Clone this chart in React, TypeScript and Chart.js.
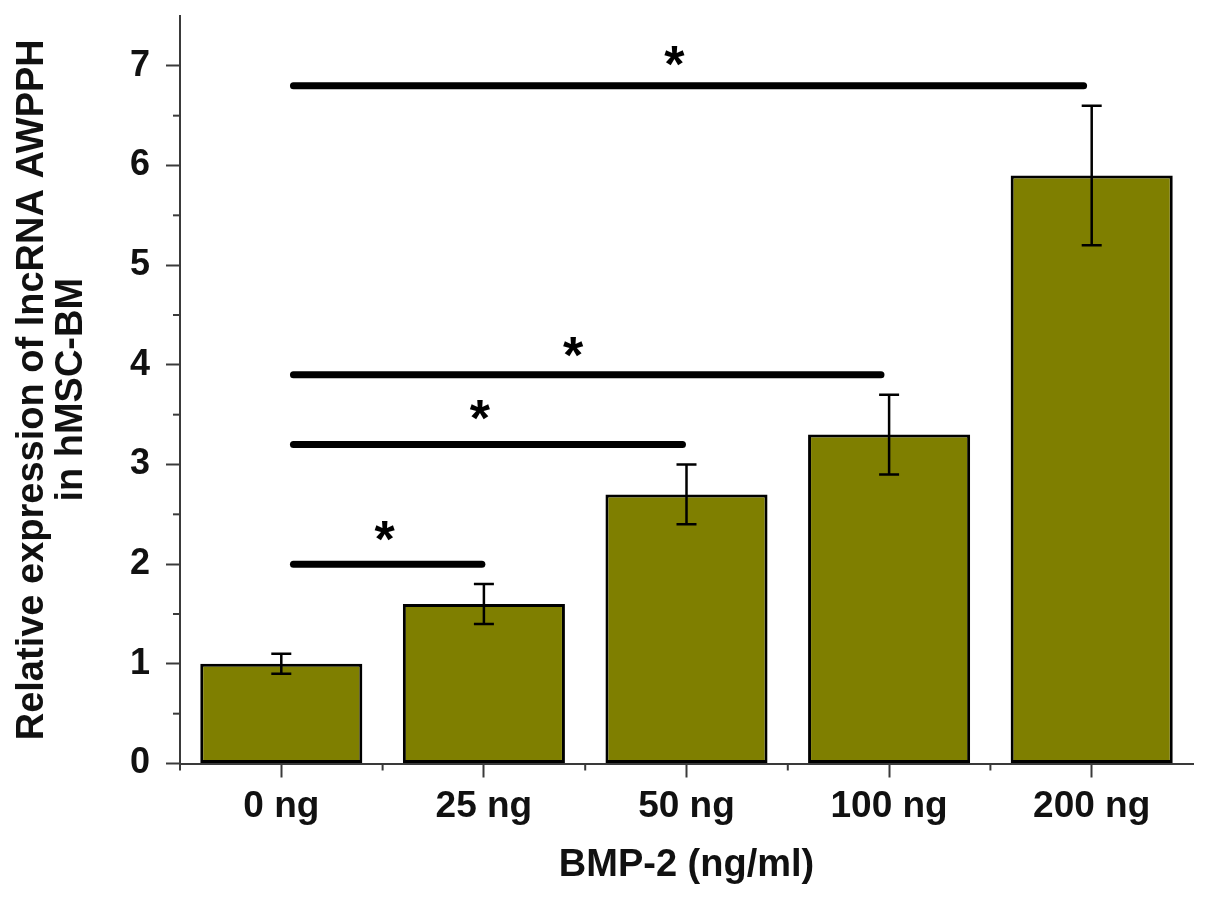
import React, { useEffect, useRef } from 'react';
import { Chart, registerables } from 'chart.js';

Chart.register(...registerables);

const categories = ['0 ng', '25 ng', '50 ng', '100 ng', '200 ng'];
const values = [1.0, 1.6, 2.7, 3.3, 5.9];
const errors = [0.1, 0.2, 0.3, 0.4, 0.7];
const yTickValues = [0, 1, 2, 3, 4, 5, 6, 7];
const yMinorTicks = [0.5, 1.5, 2.5, 3.5, 4.5, 5.5, 6.5];
const xMinorTicks = [0.5, 1.5, 2.5, 3.5];
const sigLevel = [2.0, 3.2, 3.9, 6.8];
const sigStart = [0.06, 0.06, 0.06, 0.06];
const sigEnd = [0.99, 1.98, 2.96, 3.96];
const starX = [0.51, 0.98, 1.44, 1.94];
const starY = [2.31, 3.53, 4.16, 7.08];

const FONT = "'Liberation Sans', Arial, Helvetica, sans-serif";
const AXIS_COLOR = '#3a3a3a';

const idxPx = (xs: any, f: number) => {
  const p0 = xs.getPixelForValue(0);
  const p1 = xs.getPixelForValue(1);
  return p0 + f * (p1 - p0);
};

const overlayPlugin = {
  id: 'overlay',
  afterDatasetsDraw(chart: any) {
    const { ctx, scales } = chart;
    const xs = scales.x;
    const ys = scales.y;
    const meta = chart.getDatasetMeta(0);
    ctx.save();
    // error bars
    ctx.strokeStyle = '#000';
    ctx.lineWidth = 2.5;
    values.forEach((v, i) => {
      const bar = meta.data[i];
      const x = bar.x;
      const yTop = ys.getPixelForValue(v + errors[i]);
      const yBot = ys.getPixelForValue(v - errors[i]);
      ctx.beginPath();
      ctx.moveTo(x, yTop);
      ctx.lineTo(x, yBot);
      ctx.moveTo(x - 10, yTop);
      ctx.lineTo(x + 10, yTop);
      ctx.moveTo(x - 10, yBot);
      ctx.lineTo(x + 10, yBot);
      ctx.stroke();
    });
    // significance lines
    ctx.lineWidth = 7;
    ctx.lineCap = 'round';
    sigLevel.forEach((lv, i) => {
      const y = ys.getPixelForValue(lv);
      ctx.beginPath();
      ctx.moveTo(idxPx(xs, sigStart[i]), y);
      ctx.lineTo(idxPx(xs, sigEnd[i]), y);
      ctx.stroke();
    });
    // asterisks
    ctx.fillStyle = '#000';
    ctx.font = `bold 52px ${FONT}`;
    ctx.textAlign = 'center';
    ctx.textBaseline = 'alphabetic';
    starX.forEach((sx, i) => {
      const cy = ys.getPixelForValue(starY[i]);
      ctx.fillText('*', idxPx(xs, sx), cy + 24);
    });
    ctx.restore();
  },
  afterDraw(chart: any) {
    const { ctx, scales } = chart;
    const xs = scales.x;
    const ys = scales.y;
    ctx.save();
    ctx.strokeStyle = AXIS_COLOR;
    ctx.lineWidth = 2;
    ctx.lineCap = 'butt';
    // y minor ticks
    yMinorTicks.forEach((v) => {
      const y = ys.getPixelForValue(v);
      ctx.beginPath();
      ctx.moveTo(ys.right - 7, y);
      ctx.lineTo(ys.right, y);
      ctx.stroke();
    });
    // x minor ticks
    xMinorTicks.forEach((f) => {
      const x = idxPx(xs, f);
      ctx.beginPath();
      ctx.moveTo(x, xs.top);
      ctx.lineTo(x, xs.top + 7);
      ctx.stroke();
    });
    // small extension of the y axis below zero
    ctx.beginPath();
    ctx.moveTo(ys.right, xs.top);
    ctx.lineTo(ys.right, xs.top + 7);
    ctx.stroke();
    ctx.restore();
  },
};

export default function App() {
  const canvasRef = useRef<HTMLCanvasElement | null>(null);

  useEffect(() => {
    if (!canvasRef.current) return;
    const chart = new Chart(canvasRef.current, {
      type: 'bar',
      data: {
        labels: categories,
        datasets: [
          {
            data: values,
            backgroundColor: '#7f7f00',
            borderColor: '#000000',
            borderWidth: 3,
            borderSkipped: false,
            categoryPercentage: 1.0,
            barPercentage: 0.8,
          },
        ],
      },
      options: {
        animation: false,
        responsive: false,
        maintainAspectRatio: false,
        devicePixelRatio: 1,
        layout: { padding: { top: 0, right: 12, left: 0, bottom: 0 } },
        plugins: {
          legend: { display: false },
          tooltip: { enabled: false },
          title: { display: false },
        },
        scales: {
          x: {
            type: 'category',
            offset: true,
            grid: {
              display: true,
              offset: false,
              drawOnChartArea: false,
              drawTicks: true,
              tickLength: 14,
              tickWidth: 2,
              tickColor: AXIS_COLOR,
            },
            border: { display: true, color: AXIS_COLOR, width: 2 },
            ticks: {
              color: '#111',
              padding: 7,
              font: { family: FONT, size: 37, weight: 'bold' },
              maxRotation: 0,
              autoSkip: false,
            },
            title: {
              display: true,
              text: 'BMP-2 (ng/ml)',
              color: '#111',
              font: { family: FONT, size: 38, weight: 'bold', lineHeight: 1.1 },
              padding: { top: 0, bottom: 23 },
            },
            afterFit: (scale: any) => {
              scale.height = 145.5;
            },
          },
          y: {
            type: 'linear',
            min: 0,
            max: 7.5,
            afterBuildTicks: (scale: any) => {
              scale.ticks = yTickValues.map((v) => ({ value: v }));
            },
            grid: {
              display: true,
              drawOnChartArea: false,
              drawTicks: true,
              tickLength: 14,
              tickWidth: 2,
              tickColor: AXIS_COLOR,
            },
            border: { display: true, color: AXIS_COLOR, width: 2 },
            ticks: {
              color: '#111',
              padding: 16,
              font: { family: FONT, size: 36, weight: 'bold' },
              callback: (v: any) => String(v),
            },
            title: {
              display: true,
              text: ['Relative expression of lncRNA AWPPH', 'in hMSC-BM'],
              color: '#111',
              font: { family: FONT, size: 38, weight: 'bold', lineHeight: 1.03 },
              padding: { top: 13, bottom: 0 },
            },
            afterFit: (scale: any) => {
              scale.width = 180;
              scale.paddingTop = 16;
              scale.paddingBottom = 0;
            },
          },
        },
      },
      plugins: [overlayPlugin],
    });
    return () => chart.destroy();
  }, []);

  return (
    <div style={{ position: 'absolute', left: 0, top: 0, width: 1205, height: 909, background: '#fff' }}>
      <canvas ref={canvasRef} width={1205} height={909} style={{ width: 1205, height: 909 }} />
    </div>
  );
}
